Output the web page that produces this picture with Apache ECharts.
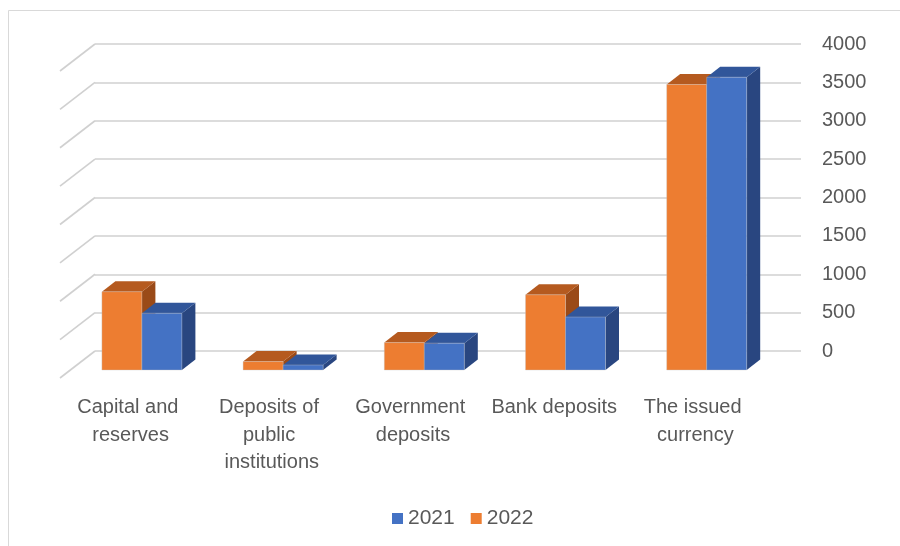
<!DOCTYPE html>
<html>
<head>
<meta charset="utf-8">
<title>Balance sheet items, 2021–2022</title>
<script src="https://cdn.jsdelivr.net/npm/echarts@6/dist/echarts.min.js"></script>
<style>
  html, body { margin: 0; padding: 0; background: #ffffff; }
  #chart { width: 900px; height: 546px; }
</style>
</head>
<body>
<div id="chart"></div>
<script>
// Categories and values
const categories = [
  'Capital and reserves',
  'Deposits of public institutions',
  'Government deposits',
  'Bank deposits',
  'The issued currency'
];
const values2021 = [740, 65, 350, 690, 3815];
const values2022 = [1020, 110, 357, 980, 3720];
const yTicks = [0, 500, 1000, 1500, 2000, 2500, 3000, 3500, 4000];

const FONT = "'Liberation Sans', Arial, sans-serif";
const TEXT = '#595959';
const GRID_LINE = '#d0d0d0';

// Oblique 3D projection: the bar fronts sit in front of the back wall
const FRONT_DX = -23.7, FRONT_DY = 19;   // bar front plane vs. back wall
const DEPTH_DX = 13.5, DEPTH_DY = -10.5; // bar depth
const FLOOR_DX = -35, FLOOR_DY = 27;     // full floor depth
const BAR_W = 40;

function makeBarRenderer(side, colors) {
  // side: -1 draws left of the category centre, 0 draws right of it
  return function (params, api) {
    const idx = api.value(0);
    const top = api.coord([idx, api.value(1)]);
    const base = api.coord([idx, 0]);
    const x0 = top[0] + FRONT_DX + side * BAR_W;
    const x1 = x0 + BAR_W;
    const yT = top[1] + FRONT_DY;
    const yB = base[1] + FRONT_DY;
    const dx = DEPTH_DX, dy = DEPTH_DY;
    return {
      type: 'group',
      children: [
        { // right side face
          type: 'polygon',
          shape: { points: [[x1, yT], [x1 + dx, yT + dy], [x1 + dx, yB + dy], [x1, yB]] },
          style: { fill: colors.side }
        },
        { // top face
          type: 'polygon',
          shape: { points: [[x0, yT], [x0 + dx, yT + dy], [x1 + dx, yT + dy], [x1, yT]] },
          style: { fill: colors.top }
        },
        { // front face
          type: 'rect',
          shape: { x: x0, y: yT, width: BAR_W, height: yB - yT },
          style: { fill: colors.front, stroke: 'rgba(200,200,200,0.6)', lineWidth: 0.6 }
        }
      ]
    };
  };
}

const blue = { front: '#4472C4', top: '#31569A', side: '#294680' };
const orange = { front: '#ED7D31', top: '#B55A1F', side: '#9A4A18' };

const chart = echarts.init(document.getElementById('chart'), null, { renderer: 'canvas' });

chart.setOption({
  backgroundColor: '#ffffff',
  animation: false,
  graphic: [{
    type: 'rect',
    shape: { x: 8.5, y: 10.5, width: 1000, height: 1000 },
    style: { fill: 'none', stroke: '#d9d9d9', lineWidth: 1 },
    silent: true
  }],
  legend: {
    data: ['2021', '2022'],
    left: 387,
    top: 503,
    icon: 'rect',
    itemWidth: 11,
    itemHeight: 11,
    itemGap: 16,
    textStyle: { color: TEXT, fontSize: 21, fontFamily: FONT }
  },
  grid: [
    // back wall
    { left: 95, right: 99, top: 44, bottom: 195 },
    // front floor edge, carries the category labels
    { left: 60, right: 134, top: 377, height: 1 }
  ],
  xAxis: [
    {
      gridIndex: 0, type: 'category', data: categories, show: false
    },
    {
      gridIndex: 1, type: 'category', data: categories,
      axisLine: { show: false }, axisTick: { show: false },
      axisLabel: {
        margin: 16, color: TEXT, fontSize: 20, fontFamily: FONT,
        lineHeight: 27.5, width: 138, overflow: 'break', interval: 0
      }
    }
  ],
  yAxis: [
    {
      gridIndex: 0, type: 'value', position: 'right',
      min: 0, max: 4000, interval: 500,
      axisLine: { show: false }, axisTick: { show: false },
      axisLabel: {
        margin: 21, color: TEXT, fontSize: 20, fontFamily: FONT,
        formatter: v => String(v)
      },
      splitLine: { lineStyle: { color: GRID_LINE, width: 1.6 } }
    },
    {
      gridIndex: 1, type: 'value', show: false, min: 0, max: 1
    }
  ],
  series: [
    { // floor-side diagonals for each value tick
      type: 'custom',
      xAxisIndex: 0, yAxisIndex: 0,
      silent: true,
      z: 1,
      data: yTicks.map(v => [0, v]),
      renderItem: function (params, api) {
        const y = api.coord([0, api.value(1)])[1];
        const x = params.coordSys.x;
        return {
          type: 'line',
          shape: { x1: x, y1: y, x2: x + FLOOR_DX, y2: y + FLOOR_DY },
          style: { stroke: GRID_LINE, lineWidth: 1.6 }
        };
      }
    },
    {
      name: '2021',
      type: 'custom',
      xAxisIndex: 0, yAxisIndex: 0,
      z: 4,
      itemStyle: { color: blue.front },
      data: values2021.map((v, i) => [i, v]),
      renderItem: makeBarRenderer(0, blue)
    },
    {
      name: '2022',
      type: 'custom',
      xAxisIndex: 0, yAxisIndex: 0,
      z: 3,
      itemStyle: { color: orange.front },
      data: values2022.map((v, i) => [i, v]),
      renderItem: makeBarRenderer(-1, orange)
    }
  ]
});
</script>
</body>
</html>
